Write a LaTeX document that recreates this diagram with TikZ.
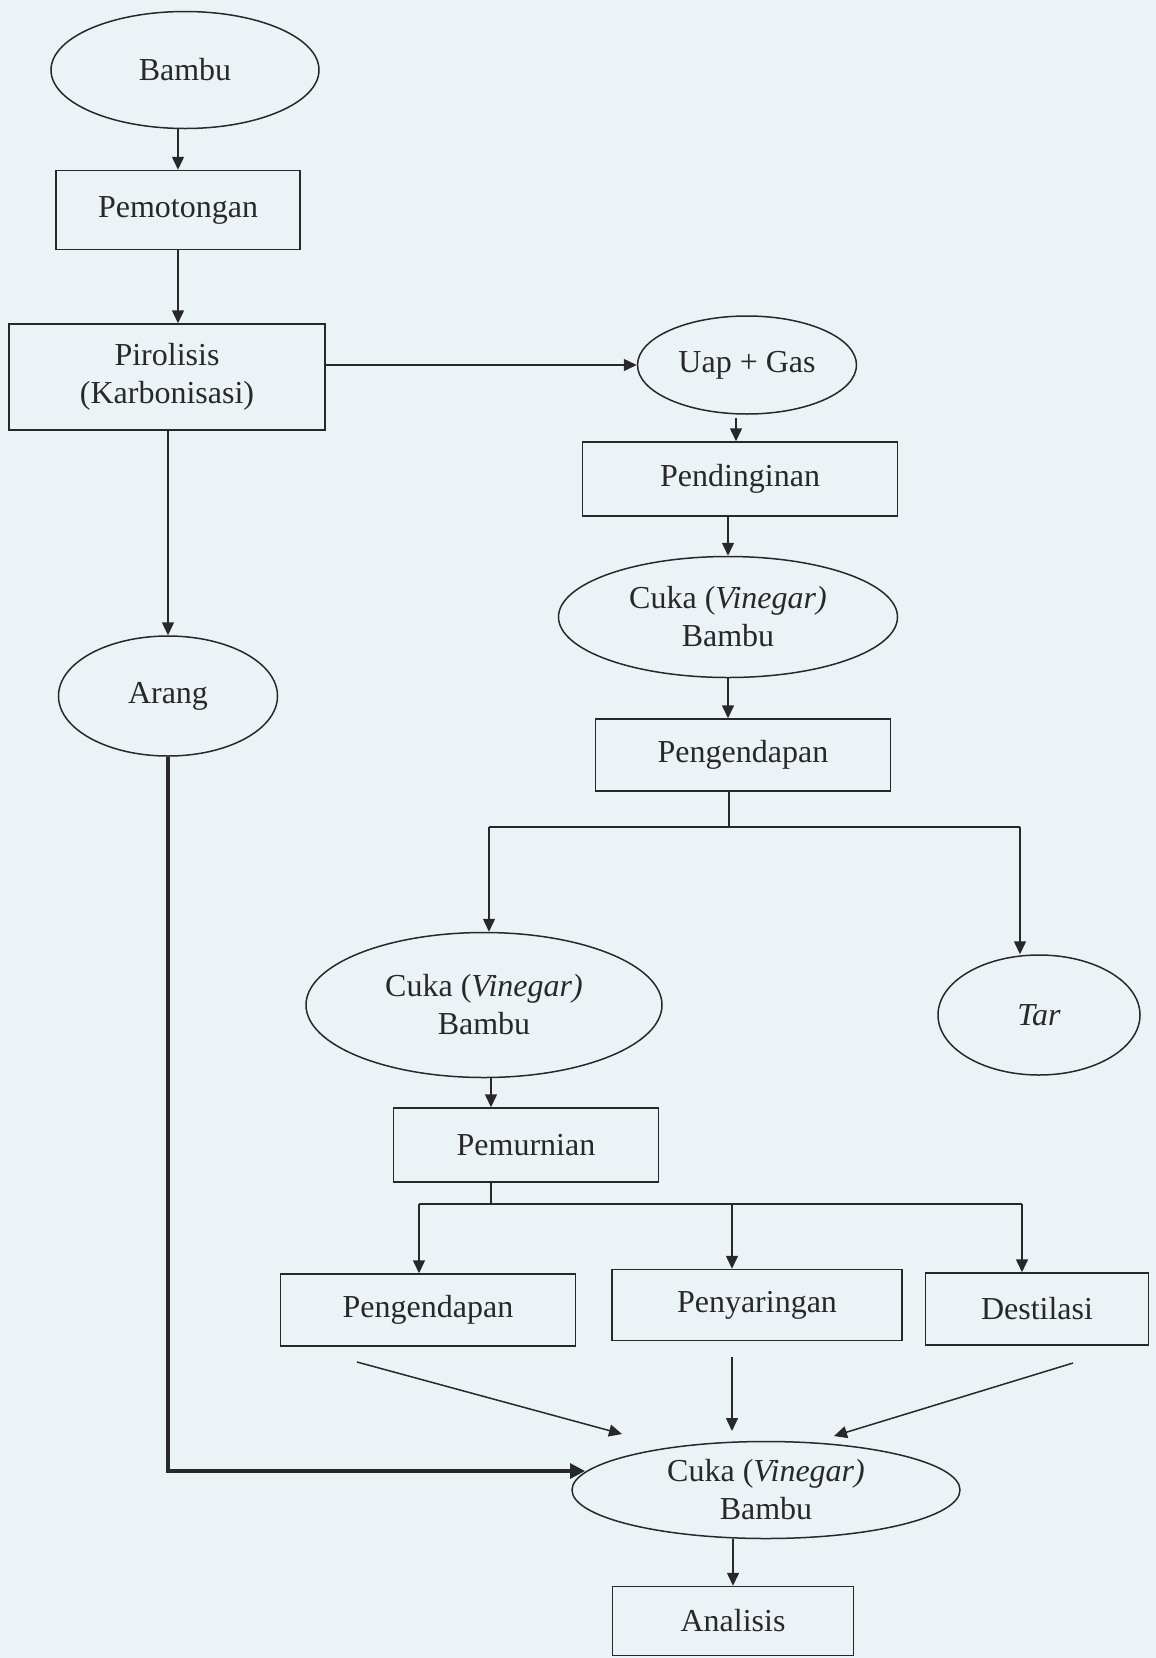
\documentclass[tikz,border=0pt]{standalone}
\usepackage{fontspec}
\setmainfont{Liberation Serif}
\usetikzlibrary{shapes.geometric,arrows.meta,calc}
\definecolor{paper}{RGB}{236,243,246}
\definecolor{ink}{RGB}{40,40,40}
\begin{document}
\begin{tikzpicture}[x=1pt,y=-1pt,
  every node/.style={font=\fontsize{32}{38}\selectfont, text=ink, align=center, inner sep=0pt},
  boxnode/.style={draw=ink, line width=1.5pt, rectangle},
  ellnode/.style={draw=ink, line width=1.5pt, ellipse},
  conn/.style={draw=ink, line width=1.5pt},
  arr/.style={conn, -{Triangle[length=13pt,width=12pt]}},
  thickarr/.style={draw=ink, line width=3.2pt, -{Triangle[length=15pt,width=15pt]}}]
\fill[paper] (0,0) rectangle (1156,1658);
\useasboundingbox (0,0) rectangle (1156,1658);

% nodes
\node[ellnode, minimum width=268pt, minimum height=117pt] (bambu) at (185,70) {Bambu};
\node[boxnode, minimum width=244pt, minimum height=79pt] (pemot) at (178,210) {Pemotongan};
\node[boxnode, minimum width=316pt, minimum height=106pt] (piro) at (167,377) {Pirolisis\\(Karbonisasi)};
\node[ellnode, minimum width=219pt, minimum height=98pt] (uap) at (747,365) {Uap + Gas};
\node[boxnode, minimum width=315pt, minimum height=74pt] (pend) at (740,479) {Pendinginan};
\node[ellnode, minimum width=339pt, minimum height=121pt] (cuka1) at (728,617) {Cuka (\textit{Vinegar)}\\Bambu};
\node[boxnode, minimum width=295pt, minimum height=72pt] (penge1) at (743,755) {Pengendapan};
\node[ellnode, minimum width=219pt, minimum height=120pt] (arang) at (168,696) {Arang};
\node[ellnode, minimum width=356pt, minimum height=145pt] (cuka2) at (484,1005) {Cuka (\textit{Vinegar)}\\Bambu};
\node[ellnode, minimum width=202pt, minimum height=120pt] (tar) at (1039,1015) {\textit{Tar}};
\node[boxnode, minimum width=265pt, minimum height=74pt] (pemur) at (526,1145) {Pemurnian};
\node[boxnode, minimum width=295pt, minimum height=72pt] (penge2) at (428,1310) {Pengendapan};
\node[boxnode, minimum width=290pt, minimum height=71pt] (penyar) at (757,1305) {Penyaringan};
\node[boxnode, minimum width=223pt, minimum height=72pt] (dest) at (1037,1309) {Destilasi};
\node[ellnode, minimum width=388pt, minimum height=97pt] (cuka3) at (766,1490) {Cuka (\textit{Vinegar)}\\Bambu};
\node[boxnode, minimum width=241pt, minimum height=69pt] (anal) at (733,1621) {Analisis};

% junction / free-end coordinates
\coordinate (j1) at (729,827);
\coordinate (jl) at (489,827);
\coordinate (jr) at (1020,827);
\coordinate (j2) at (491,1204);
\coordinate (kl) at (419,1204);
\coordinate (km) at (732,1204);
\coordinate (kr) at (1022,1204);
\coordinate (u1) at (736,418);
\coordinate (p1) at (491,1077);
\coordinate (s1) at (357,1362);
\coordinate (e1) at (622,1434);
\coordinate (s2) at (732,1357);
\coordinate (e2) at (732,1431);
\coordinate (s3) at (1073,1363);
\coordinate (e3) at (834,1436);
\coordinate (t1) at (585,1471);

% connectors
\draw[arr] (bambu.south -| pemot.north) -- (pemot.north);
\draw[arr] (pemot.south) -- (pemot.south |- piro.north);
\draw[arr] (piro.east |- uap.west) -- (uap.west);
\draw[arr] (u1) -- (u1 |- pend.north);
\draw[arr] (pend.south -| cuka1.north) -- (cuka1.north);
\draw[arr] (cuka1.south) -- (cuka1.south |- penge1.north);
\draw[conn] (penge1.south -| j1) -- (j1);
\draw[conn] (jl) -- (jr);
\draw[arr] (jl) -- (jl |- cuka2.north);
\draw[arr] (jr) -- (jr |- tar.north);
\draw[arr] (p1) -- (p1 |- pemur.north);
\draw[conn] (pemur.south -| j2) -- (j2);
\draw[conn] (kl) -- (kr);
\draw[arr] (kl) -- (kl |- penge2.north);
\draw[arr] (km) -- (km |- penyar.north);
\draw[arr] (kr) -- (kr |- dest.north);
\draw[arr] (piro.south -| arang.north) -- (arang.north);
\draw[thickarr] (arang.south) -- (arang.south |- t1) -- (t1);
\draw[arr] (s1) -- (e1);
\draw[arr] (s2) -- (e2);
\draw[arr] (s3) -- (e3);
\draw[arr] (cuka3.south -| anal.north) -- (anal.north);
\end{tikzpicture}
\end{document}
